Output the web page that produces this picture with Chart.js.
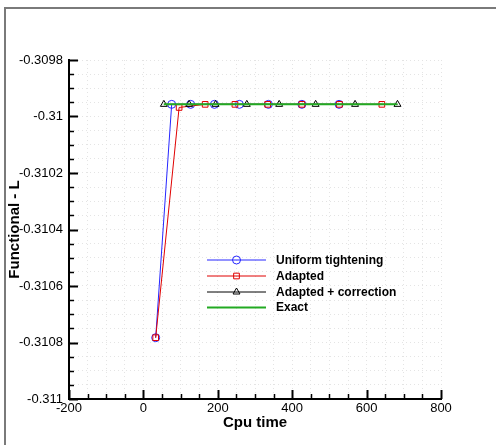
<!DOCTYPE html>
<html>
<head>
<meta charset="utf-8">
<title>Functional vs Cpu time</title>
<script src="https://cdn.jsdelivr.net/npm/chart.js@4.4.1/dist/chart.umd.min.js"></script>
<style>
  html, body { margin: 0; padding: 0; background: #fff; }
  #wrap { width: 496px; height: 445px; }
</style>
</head>
<body>
<div id="wrap"><canvas id="c" width="496" height="445"></canvas></div>
<script>
// Convergence of the functional L against CPU time
const uniformX  = [33, 76, 127, 191, 258, 336, 426, 526];
const uniformY  = [-0.310783, -0.309957, -0.309957, -0.309957, -0.309957, -0.309957, -0.309957, -0.309957];
const adaptedX  = [33, 96, 166, 246, 334, 426, 527, 641];
const adaptedY  = [-0.310783, -0.309968, -0.309957, -0.309957, -0.309957, -0.309957, -0.309957, -0.309957];
const correctX  = [55, 123, 194, 278, 365, 463, 569, 683];
const correctY  = [-0.309957, -0.309957, -0.309957, -0.309957, -0.309957, -0.309957, -0.309957, -0.309957];
const exactX    = [55, 683];
const exactY    = [-0.309957, -0.309957];

const xTicks = [-200, 0, 200, 400, 600, 800];
const yTicks = [-0.311, -0.3108, -0.3106, -0.3104, -0.3102, -0.31, -0.3098];

const seriesNames = ['Uniform tightening', 'Adapted', 'Adapted + correction', 'Exact'];

const FONT = "'Liberation Sans', Arial, Helvetica, sans-serif";
const pts = (xs, ys) => xs.map((x, i) => ({ x, y: ys[i] }));

// majors plus 3 minor ticks between each pair
function withMinors(majors, per) {
  const out = [];
  for (let i = 0; i < majors.length; i++) {
    out.push({ value: majors[i], big: true });
    if (i === majors.length - 1) break;
    const step = (majors[i + 1] - majors[i]) / per;
    for (let k = 1; k < per; k++) out.push({ value: majors[i] + k * step, big: false });
  }
  return out;
}

const frame = {
  id: 'frame',
  beforeDraw(chart) {
    const ctx = chart.ctx;
    ctx.save();
    ctx.strokeStyle = '#7a7a7a';
    ctx.lineWidth = 2;
    ctx.beginPath();
    ctx.moveTo(5, 445);
    ctx.lineTo(5, 8);
    ctx.lineTo(496, 8);
    ctx.stroke();
    ctx.restore();
  }
};

// inward tick marks on the left and bottom axes
const innerTicks = {
  id: 'innerTicks',
  afterDraw(chart) {
    const { ctx, chartArea: a } = chart;
    const xs = chart.scales.x, ys = chart.scales.y;
    ctx.save();
    ctx.strokeStyle = '#000';
    xs.ticks.forEach(t => {
      const px = Math.round(xs.getPixelForValue(t.value)) + 0.5;
      ctx.lineWidth = t.big ? 2 : 1.5;
      ctx.beginPath();
      ctx.moveTo(px, a.bottom);
      ctx.lineTo(px, a.bottom - (t.big ? 9 : 5));
      ctx.stroke();
    });
    ys.ticks.forEach(t => {
      const py = Math.round(ys.getPixelForValue(t.value)) + 0.5;
      ctx.lineWidth = t.big ? 2 : 1.5;
      ctx.beginPath();
      ctx.moveTo(a.left, py);
      ctx.lineTo(a.left + (t.big ? 9 : 5), py);
      ctx.stroke();
    });
    ctx.restore();
  }
};

const legendBox = {
  id: 'legendBox',
  afterDraw(chart) {
    const ctx = chart.ctx;
    const rows = [260, 276, 292, 307.5];
    ctx.save();
    ctx.font = 'bold 12px ' + FONT;
    ctx.textBaseline = 'middle';
    chart.data.datasets.forEach((ds, i) => {
      const y = rows[i];
      ctx.strokeStyle = ds.borderColor;
      ctx.lineWidth = ds.borderWidth;
      ctx.beginPath();
      ctx.moveTo(207, y);
      ctx.lineTo(266, y);
      ctx.stroke();
      if (ds.pointRadius > 0) {
        ctx.strokeStyle = ds.pointBorderColor;
        ctx.fillStyle = 'rgba(0,0,0,0)';
        Chart.helpers.drawPoint(ctx, { pointStyle: ds.pointStyle, radius: ds.pointRadius, borderWidth: 1, rotation: 0 }, 236.5, y);
      }
      ctx.fillStyle = '#000';
      ctx.fillText(ds.label, 276, y + 0.5);
    });
    ctx.restore();
  }
};

const lineSet = (label, data, color, style, radius, order) => ({
  label, data, order,
  borderColor: color,
  borderWidth: 1,
  pointStyle: style,
  pointRadius: radius,
  pointBorderColor: color,
  pointBackgroundColor: 'rgba(0,0,0,0)',
  pointBorderWidth: 1,
  tension: 0,
  fill: false,
});

new Chart(document.getElementById('c').getContext('2d'), {
  type: 'line',
  data: {
    datasets: [
      lineSet(seriesNames[0], pts(uniformX, uniformY), '#2626ff', 'circle', 4, 3),
      lineSet(seriesNames[1], pts(adaptedX, adaptedY), '#e00000', 'rect', 4, 2),
      lineSet(seriesNames[2], pts(correctX, correctY), '#000000', 'triangle', 4, 1),
      { ...lineSet(seriesNames[3], pts(exactX, exactY), '#22aa22', 'circle', 0, 0), borderWidth: 2 },
    ],
  },
  options: {
    responsive: false,
    animation: false,
    events: [],
    layout: { padding: { top: 60, right: 55, bottom: 0, left: 0 } },
    plugins: { legend: { display: false }, tooltip: { enabled: false } },
    scales: {
      x: {
        type: 'linear',
        min: -200, max: 800,
        afterBuildTicks: s => { s.ticks = withMinors(xTicks, 4); },
        afterFit: s => { s.height = 46; },
        ticks: {
          autoSkip: false, maxRotation: 0, padding: 2,
          color: '#000', font: { family: FONT, size: 13 },
          callback: (v, i, ticks) => ticks[i].big ? String(v) : '',
        },
        grid: { color: '#e4e4e4', lineWidth: 1, drawTicks: false },
        border: { color: '#000', width: 2, dash: [1, 3] },
        title: {
          display: true, text: 'Cpu time', color: '#000',
          font: { family: FONT, size: 15, weight: 'bold' },
          padding: { top: 0, bottom: 13 },
        },
      },
      y: {
        type: 'linear',
        min: -0.311, max: -0.3098,
        afterBuildTicks: s => { s.ticks = withMinors(yTicks, 4); },
        afterFit: s => { s.width = 69; },
        ticks: {
          autoSkip: false, padding: 6,
          color: '#000', font: { family: FONT, size: 13 },
          callback: (v, i, ticks) => ticks[i].big ? String(yTicks[yTicks.indexOf(ticks[i].value)]) : '',
        },
        grid: { color: '#e4e4e4', lineWidth: 1, drawTicks: false },
        border: { color: '#000', width: 2, dash: [1, 3] },
        title: {
          display: true, text: 'Functional - L', color: '#000',
          font: { family: FONT, size: 15, weight: 'bold' },
          padding: { top: 6, bottom: 0 },
        },
      },
    },
  },
  plugins: [frame, innerTicks, legendBox],
});
</script>
</body>
</html>
